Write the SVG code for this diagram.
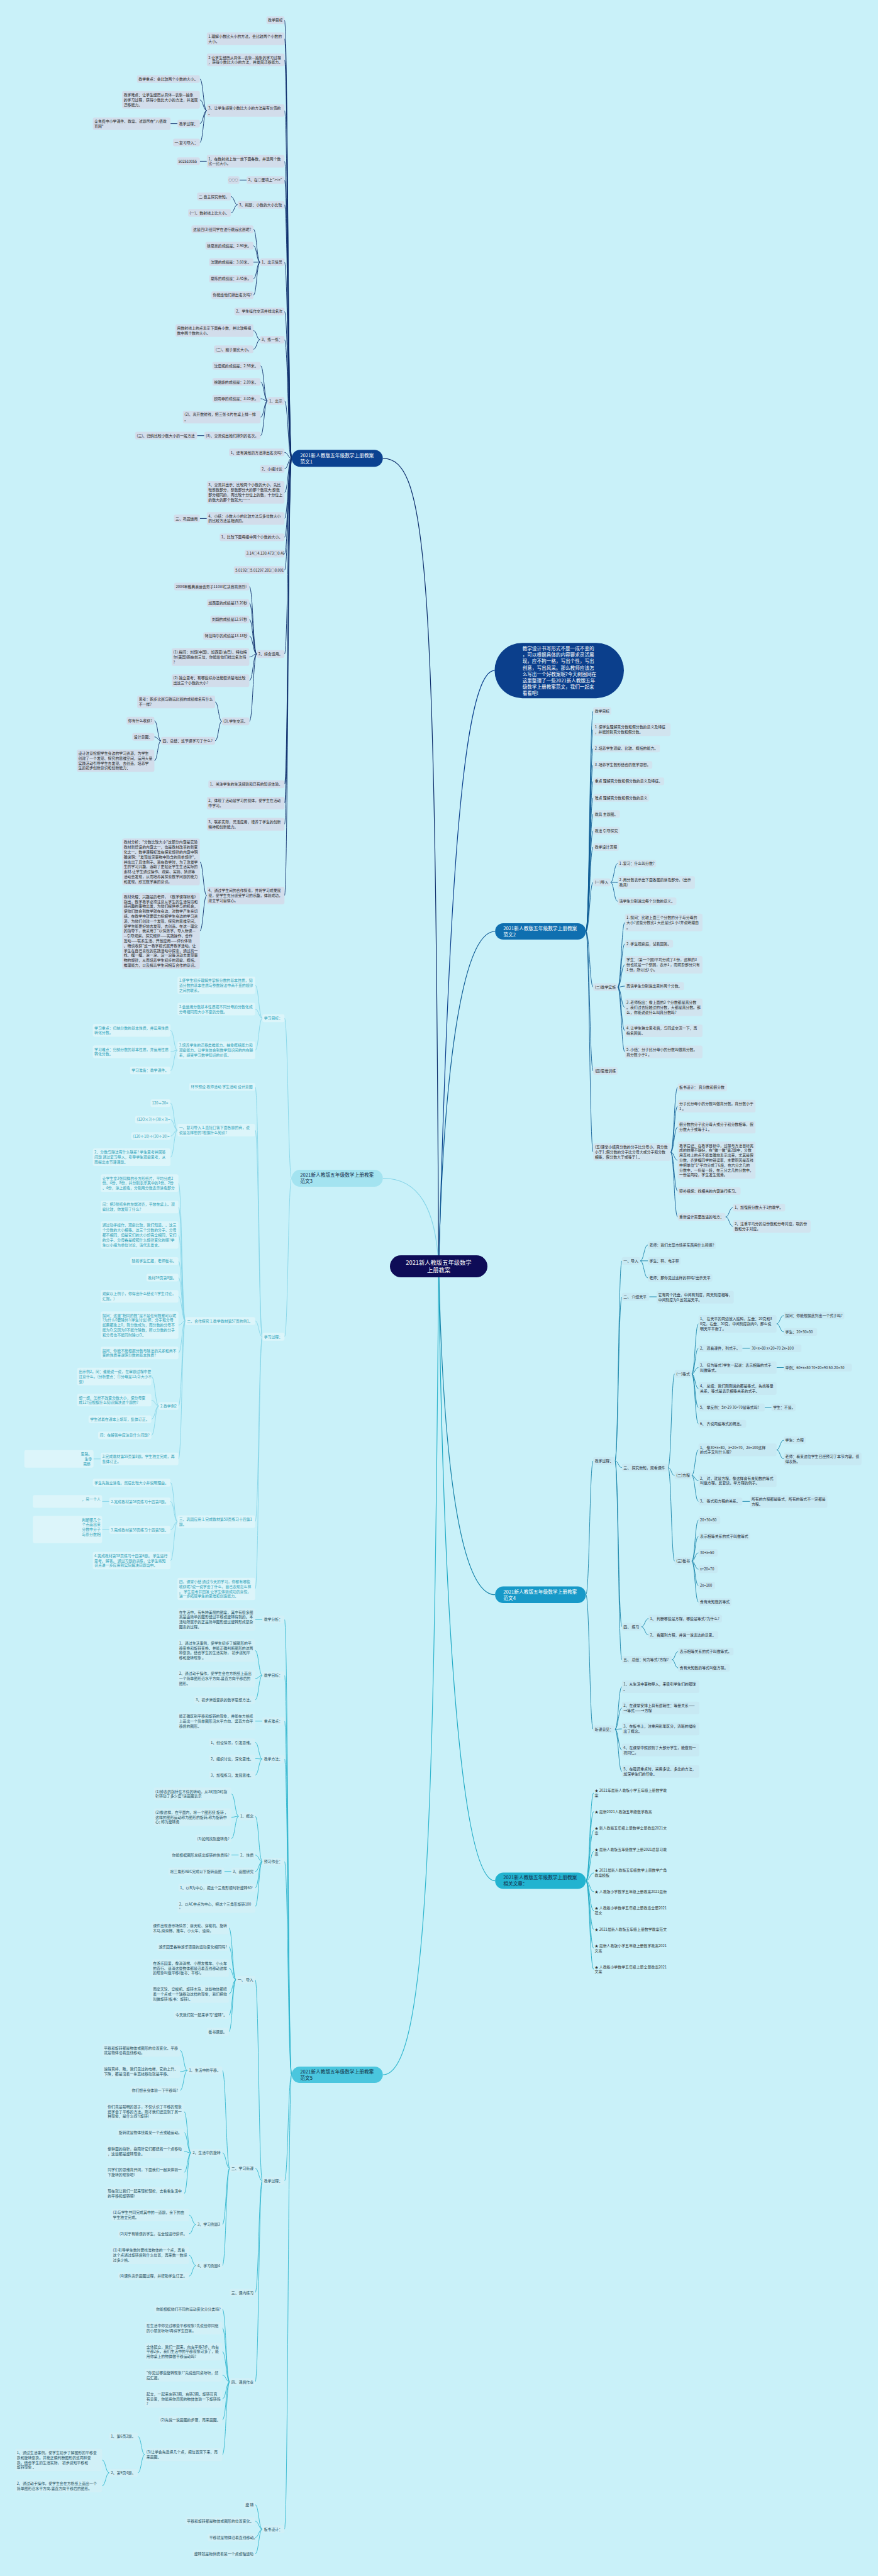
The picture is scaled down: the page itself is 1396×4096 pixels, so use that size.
<svg xmlns="http://www.w3.org/2000/svg" width="1396" height="4096" viewBox="0 0 1396 4096">
<style>
text{font-family:"Noto Sans CJK SC","Noto Sans",sans-serif;font-size:5.9px}
.k1 rect{fill:#d2ddeb}.k1 text{fill:#262626}
.k2 rect{fill:#d1e4ef}.k2 text{fill:#1f1f1f}
.k3 rect{fill:#dcf5fa}.k3 text{fill:#2a9fb7}
.k4 rect{fill:#c7e9f3}.k4 text{fill:#1e2b36}
.k5 rect{fill:#d1f0f7}.k5 text{fill:#1f4f5e}
.k6 text{fill:#333}
.L text{font-size:7.7px}
#connectors path{fill:none;stroke-width:.9}
.c0{stroke:#0b3f8c}.c1{stroke:#0c2d6b}.c2{stroke:#0f5c95}.c3{stroke:#86d5e8}.c4{stroke:#1683a9}.c5{stroke:#30b6ce}.c6{stroke:#1ea9c4}
#connectors .m{stroke-width:1.2}
</style>
<rect width="1396" height="4096" fill="#c9f1f9"/>
<g id="connectors">
<path class="c0 m" d="M697.5 2013.5C712 1500 730 1066.2 786.4 1066.2"/>
<path class="c1 m" d="M608.7 728.8C680 728.8 692 900 697.5 2013.5"/>
<path class="c3 m" d="M608.7 1873.5C665 1873.5 693 1920 697.5 2013.5"/>
<path class="c5 m" d="M608.7 3299C680 3299 690 2900 697.5 2013.5"/>
<path class="c2 m" d="M697.5 2013.5C705 1700 735 1481 787.2 1481"/>
<path class="c4 m" d="M697.5 2013.5C705 2350 735 2535.7 787.2 2535.7"/>
<path class="c6 m" d="M697.5 2013.5C705 2600 735 2990.6 787.2 2990.6"/>
<path class="c1" d="M463.7 728.8C458 728.8 458 32.1 452.3 32.1M463.7 728.8C458 728.8 458 61.6 452.3 61.6M463.7 728.8C458 728.8 458 95.3 452.3 95.3M463.7 728.8C458 728.8 458 175.8 452.3 175.8M463.7 728.8C458 728.8 458 256.4 452.3 256.4M463.7 728.8C458 728.8 458 286.3 452.3 286.3M463.7 728.8C458 728.8 458 325.6 452.3 325.6M463.7 728.8C458 728.8 458 416.9 452.3 416.9M463.7 728.8C458 728.8 458 495.3 452.3 495.3M463.7 728.8C458 728.8 458 540.2 452.3 540.2M463.7 728.8C458 728.8 458 637.5 452.3 637.5M463.7 728.8C458 728.8 458 719.4 452.3 719.4M463.7 728.8C458 728.8 458 745.6 452.3 745.6M463.7 728.8C458 728.8 458 782.9 452.3 782.9M463.7 728.8C458 728.8 458 824.4 452.3 824.4M463.7 728.8C458 728.8 458 854.3 452.3 854.3M463.7 728.8C458 728.8 458 880.3 452.3 880.3M463.7 728.8C458 728.8 458 906.5 452.3 906.5M463.7 728.8C458 728.8 458 1040 452.3 1040M463.7 728.8C458 728.8 458 1247 452.3 1247M463.7 728.8C458 728.8 458 1277 452.3 1277M463.7 728.8C458 728.8 458 1310.6 452.3 1310.6M463.7 728.8C458 728.8 458 1424 452.3 1424"/>
<path class="c1" d="M328.8 175.8C323.2 175.8 323.2 125.6 317.7 125.6M328.8 175.8C323.2 175.8 323.2 158.8 317.7 158.8M328.8 175.8C323.2 175.8 323.2 196.6 317.7 196.6M328.8 175.8C323.2 175.8 323.2 226.6 317.7 226.6M282.2 196.6H271.1M328.8 256.4H317.7M392.1 286.3H380.7M377.8 325.6C372.4 325.6 372.4 312.5 367.1 312.5M377.8 325.6C372.4 325.6 372.4 338.5 367.1 338.5M413.6 416.9C408.2 416.9 408.2 364.5 402.9 364.5M413.6 416.9C408.2 416.9 408.2 390.7 402.9 390.7M413.6 416.9H402.9M413.6 416.9C408.2 416.9 408.2 443.1 402.9 443.1M413.6 416.9C408.2 416.9 408.2 469.3 402.9 469.3M413.6 540.2C408.2 540.2 408.2 525.6 402.9 525.6M413.6 540.2C408.2 540.2 408.2 555.4 402.9 555.4M425.4 637.5C419.8 637.5 419.8 581.7 414.3 581.7M425.4 637.5C419.8 637.5 419.8 607.4 414.3 607.4M425.4 637.5C419.8 637.5 419.8 633.9 414.3 633.9M425.4 637.5C419.8 637.5 419.8 663.2 414.3 663.2M425.4 637.5C419.8 637.5 419.8 692.7 414.3 692.7M324.8 692.7H313.4M328.8 824.4H317.7M408.3 1040C402.3 1040 402.3 932.7 396.4 932.7M408.3 1040C402.3 1040 402.3 958.9 396.4 958.9M408.3 1040C402.3 1040 402.3 985 396.4 985M408.3 1040C402.3 1040 402.3 1011.3 396.4 1011.3M408.3 1040C402.3 1040 402.3 1044.7 396.4 1044.7M408.3 1040C402.3 1040 402.3 1082.2 396.4 1082.2M408.3 1040C402.3 1040 402.3 1147 396.4 1147M352.8 1147C347.4 1147 347.4 1116.1 342 1116.1M352.8 1147C347.4 1147 347.4 1177.8 342 1177.8M256.1 1177.8C250.7 1177.8 250.7 1146 245.4 1146M256.1 1177.8C250.7 1177.8 250.7 1171.7 245.4 1171.7M256.1 1177.8C250.7 1177.8 250.7 1209.5 245.4 1209.5M328.8 1424C323.2 1424 323.2 1370.5 317.7 1370.5M328.8 1424C323.2 1424 323.2 1480.2 317.7 1480.2"/>
<path class="c3" d="M463.7 1873.5C458 1873.5 458 1619 452.3 1619M463.7 1873.5C458 1873.5 458 2125.5 452.3 2125.5M417.2 1619C411.4 1619 411.4 1566.6 405.7 1566.6M417.2 1619C411.4 1619 411.4 1604.5 405.7 1604.5M417.2 1619C411.4 1619 411.4 1670 405.7 1670M282.2 1670C276.6 1670 276.6 1638.4 271.1 1638.4M282.2 1670C276.6 1670 276.6 1672.4 271.1 1672.4M282.2 1670C276.6 1670 276.6 1702.2 271.1 1702.2M417.2 2125.5C411.4 2125.5 411.4 1728.2 405.7 1728.2M417.2 2125.5C411.4 2125.5 411.4 1797 405.7 1797M417.2 2125.5C411.4 2125.5 411.4 2100.5 405.7 2100.5M417.2 2125.5C411.4 2125.5 411.4 2419.5 405.7 2419.5M417.2 2125.5C411.4 2125.5 411.4 2526.5 405.7 2526.5M282.2 1797C276.6 1797 276.6 1754.1 271.1 1754.1M282.2 1797C276.6 1797 276.6 1780.3 271.1 1780.3M282.2 1797C276.6 1797 276.6 1806.4 271.1 1806.4M282.2 1797C276.6 1797 276.6 1840 271.1 1840M294.8 2100.5C289.2 2100.5 289.2 1881.3 283.7 1881.3M294.8 2100.5C289.2 2100.5 289.2 1919.1 283.7 1919.1M294.8 2100.5C289.2 2100.5 289.2 1963.8 283.7 1963.8M294.8 2100.5C289.2 2100.5 289.2 2005.2 283.7 2005.2M294.8 2100.5C289.2 2100.5 289.2 2031.4 283.7 2031.4M294.8 2100.5C289.2 2100.5 289.2 2061.2 283.7 2061.2M294.8 2100.5C289.2 2100.5 289.2 2107 283.7 2107M294.8 2100.5C289.2 2100.5 289.2 2151.3 283.7 2151.3M294.8 2100.5C289.2 2100.5 289.2 2235.6 283.7 2235.6M294.8 2100.5C289.2 2100.5 289.2 2319.8 283.7 2319.8M252.5 2235.6C246.6 2235.6 246.6 2188.7 240.7 2188.7M252.5 2235.6C246.6 2235.6 246.6 2226.3 240.7 2226.3M252.5 2235.6C246.6 2235.6 246.6 2256.6 240.7 2256.6M252.5 2235.6C246.6 2235.6 246.6 2282.3 240.7 2282.3M160.2 2319.8H148.7M282.2 2419.5C276.6 2419.5 276.6 2357.5 271.1 2357.5M282.2 2419.5C276.6 2419.5 276.6 2387.4 271.1 2387.4M282.2 2419.5C276.6 2419.5 276.6 2432.5 271.1 2432.5M282.2 2419.5C276.6 2419.5 276.6 2481.4 271.1 2481.4M173.8 2387.4H162.3M173.8 2432.5H162.3"/>
<path class="c5" d="M463.7 3299C458 3299 458 2575 452.3 2575M463.7 3299C458 3299 458 2664 452.3 2664M463.7 3299C458 3299 458 2736.7 452.3 2736.7M463.7 3299C458 3299 458 2796.9 452.3 2796.9M463.7 3299C458 3299 458 2960.1 452.3 2960.1M463.7 3299C458 3299 458 3467.6 452.3 3467.6M463.7 3299C458 3299 458 4021.5 452.3 4021.5M417.2 2575H405.7M417.2 2664C411.4 2664 411.4 2624.4 405.7 2624.4M417.2 2664C411.4 2664 411.4 2669.1 405.7 2669.1M417.2 2664C411.4 2664 411.4 2702.9 405.7 2702.9M417.2 2736.7H405.7M417.2 2796.9C411.4 2796.9 411.4 2770.4 405.7 2770.4M417.2 2796.9C411.4 2796.9 411.4 2796.4 405.7 2796.4M417.2 2796.9C411.4 2796.9 411.4 2822.5 405.7 2822.5M417.2 2960.1C411.4 2960.1 411.4 2888 405.7 2888M417.2 2960.1C411.4 2960.1 411.4 2949.6 405.7 2949.6M417.2 2960.1C411.4 2960.1 411.4 2975.8 405.7 2975.8M417.2 2960.1C411.4 2960.1 411.4 3001.7 405.7 3001.7M417.2 2960.1C411.4 2960.1 411.4 3031.5 405.7 3031.5M379.6 2888C373.7 2888 373.7 2852.4 367.8 2852.4M379.6 2888C373.7 2888 373.7 2889.5 367.8 2889.5M379.6 2888C373.7 2888 373.7 2923.5 367.8 2923.5M379.6 2949.6H367.8M367.8 2975.8H356.7M417.2 3467.6C411.4 3467.6 411.4 3147.9 405.7 3147.9M417.2 3467.6C411.4 3467.6 411.4 3447.8 405.7 3447.8M417.2 3467.6C411.4 3467.6 411.4 3645.4 405.7 3645.4M417.2 3467.6C411.4 3467.6 411.4 3787.4 405.7 3787.4M375.3 3147.9C369.6 3147.9 369.6 3065.5 363.9 3065.5M375.3 3147.9C369.6 3147.9 369.6 3095.6 363.9 3095.6M375.3 3147.9C369.6 3147.9 369.6 3129.4 363.9 3129.4M375.3 3147.9C369.6 3147.9 369.6 3170.6 363.9 3170.6M375.3 3147.9C369.6 3147.9 369.6 3204.1 363.9 3204.1M375.3 3147.9C369.6 3147.9 369.6 3230.5 363.9 3230.5M365.3 3447.8C359.4 3447.8 359.4 3292.2 353.5 3292.2M365.3 3447.8C359.4 3447.8 359.4 3423.2 353.5 3423.2M365.3 3447.8C359.4 3447.8 359.4 3537.2 353.5 3537.2M365.3 3447.8C359.4 3447.8 359.4 3602.4 353.5 3602.4M298 3292.2C292.1 3292.2 292.1 3260.3 286.2 3260.3M298 3292.2C292.1 3292.2 292.1 3294.1 286.2 3294.1M298 3292.2C292.1 3292.2 292.1 3323.7 286.2 3323.7M303.7 3423.2C298.1 3423.2 298.1 3357.5 292.6 3357.5M303.7 3423.2C298.1 3423.2 298.1 3391 292.6 3391M303.7 3423.2C298.1 3423.2 298.1 3420.9 292.6 3420.9M303.7 3423.2C298.1 3423.2 298.1 3454.2 292.6 3454.2M303.7 3423.2C298.1 3423.2 298.1 3488 292.6 3488M311.6 3537.2C306 3537.2 306 3522 300.5 3522M311.6 3537.2C306 3537.2 306 3552 300.5 3552M311.6 3602.4C306 3602.4 306 3586 300.5 3586M311.6 3602.4C306 3602.4 306 3619.3 300.5 3619.3M365.3 3787.4C359.4 3787.4 359.4 3671.8 353.5 3671.8M365.3 3787.4C359.4 3787.4 359.4 3701.7 353.5 3701.7M365.3 3787.4C359.4 3787.4 359.4 3739.3 353.5 3739.3M365.3 3787.4C359.4 3787.4 359.4 3776.6 353.5 3776.6M365.3 3787.4C359.4 3787.4 359.4 3814.4 353.5 3814.4M365.3 3787.4C359.4 3787.4 359.4 3847.7 353.5 3847.7M365.3 3787.4C359.4 3787.4 359.4 3903.1 353.5 3903.1M230.3 3903.1C224.7 3903.1 224.7 3874.2 219.2 3874.2M230.3 3903.1C224.7 3903.1 224.7 3932 219.2 3932M173.8 3932C168 3932 168 3911.5 162.3 3911.5M173.8 3932C168 3932 168 3952.7 162.3 3952.7M417.2 4021.5C411.4 4021.5 411.4 3982.6 405.7 3982.6M417.2 4021.5C411.4 4021.5 411.4 4008.8 405.7 4008.8M417.2 4021.5C411.4 4021.5 411.4 4034.7 405.7 4034.7M417.2 4021.5C411.4 4021.5 411.4 4060.8 405.7 4060.8"/>
<path class="c2" d="M931.5 1481C937.4 1481 937.4 1130.6 943.2 1130.6M931.5 1481C937.4 1481 937.4 1160.1 943.2 1160.1M931.5 1481C937.4 1481 937.4 1190.1 943.2 1190.1M931.5 1481C937.4 1481 937.4 1216.3 943.2 1216.3M931.5 1481C937.4 1481 937.4 1242.3 943.2 1242.3M931.5 1481C937.4 1481 937.4 1268.5 943.2 1268.5M931.5 1481C937.4 1481 937.4 1294.4 943.2 1294.4M931.5 1481C937.4 1481 937.4 1320.8 943.2 1320.8M931.5 1481C937.4 1481 937.4 1346.8 943.2 1346.8M931.5 1481C937.4 1481 937.4 1403 943.2 1403M931.5 1481C937.4 1481 937.4 1569.6 943.2 1569.6M931.5 1481C937.4 1481 937.4 1702.9 943.2 1702.9M931.5 1481C937.4 1481 937.4 1831.9 943.2 1831.9M970.6 1403C976.3 1403 976.3 1373.2 982 1373.2M970.6 1403C976.3 1403 976.3 1403.2 982 1403.2M970.6 1403C976.3 1403 976.3 1433.1 982 1433.1M982 1569.6C987.8 1569.6 987.8 1466.7 993.6 1466.7M982 1569.6C987.8 1569.6 987.8 1500.7 993.6 1500.7M982 1569.6C987.8 1569.6 987.8 1534 993.6 1534M982 1569.6C987.8 1569.6 987.8 1568 993.6 1568M982 1569.6C987.8 1569.6 987.8 1601.8 993.6 1601.8M982 1569.6C987.8 1569.6 987.8 1639 993.6 1639M982 1569.6C987.8 1569.6 987.8 1672.6 993.6 1672.6M1066.2 1831.9C1071.8 1831.9 1071.8 1729 1077.5 1729M1066.2 1831.9C1071.8 1831.9 1071.8 1758.8 1077.5 1758.8M1066.2 1831.9C1071.8 1831.9 1071.8 1792.1 1077.5 1792.1M1066.2 1831.9C1071.8 1831.9 1071.8 1844.8 1077.5 1844.8M1066.2 1831.9C1071.8 1831.9 1071.8 1893.9 1077.5 1893.9M1066.2 1831.9C1071.8 1831.9 1071.8 1934.9 1077.5 1934.9M1153.6 1934.9C1159.5 1934.9 1159.5 1920.2 1165.4 1920.2M1153.6 1934.9C1159.5 1934.9 1159.5 1950 1165.4 1950"/>
<path class="c4" d="M931.5 2535.7C937.4 2535.7 937.4 2322.8 943.2 2322.8M931.5 2535.7C937.4 2535.7 937.4 2749.6 943.2 2749.6M977.7 2322.8C983.2 2322.8 983.2 2004.8 988.8 2004.8M977.7 2322.8C983.2 2322.8 983.2 2062 988.8 2062M977.7 2322.8C983.2 2322.8 983.2 2333.6 988.8 2333.6M977.7 2322.8C983.2 2322.8 983.2 2586.6 988.8 2586.6M977.7 2322.8C983.2 2322.8 983.2 2639.1 988.8 2639.1M1017.8 2004.8C1023.9 2004.8 1023.9 1979.8 1030 1979.8M1017.8 2004.8H1030M1017.8 2004.8C1023.9 2004.8 1023.9 2031.8 1030 2031.8M1032.3 2062H1044M1062.2 2333.6C1067.4 2333.6 1067.4 2184.5 1072.7 2184.5M1062.2 2333.6C1067.4 2333.6 1067.4 2346.1 1072.7 2346.1M1062.2 2333.6C1067.4 2333.6 1067.4 2482.3 1072.7 2482.3M1099.7 2184.5C1105.1 2184.5 1105.1 2105 1110.6 2105M1099.7 2184.5C1105.1 2184.5 1105.1 2143.9 1110.6 2143.9M1099.7 2184.5C1105.1 2184.5 1105.1 2174.5 1110.6 2174.5M1099.7 2184.5C1105.1 2184.5 1105.1 2207.9 1110.6 2207.9M1099.7 2184.5C1105.1 2184.5 1105.1 2238 1110.6 2238M1099.7 2184.5C1105.1 2184.5 1105.1 2264 1110.6 2264M1234.7 2105C1240.3 2105 1240.3 2091.8 1246 2091.8M1234.7 2105C1240.3 2105 1240.3 2117.8 1246 2117.8M1180.3 2143.9H1192.4M1234.7 2174.5H1246M1215.8 2238H1226.7M1099.7 2346.1C1105.1 2346.1 1105.1 2305.4 1110.6 2305.4M1099.7 2346.1C1105.1 2346.1 1105.1 2354.4 1110.6 2354.4M1099.7 2346.1C1105.1 2346.1 1105.1 2387.3 1110.6 2387.3M1234.7 2305.4C1240.3 2305.4 1240.3 2290.1 1246 2290.1M1234.7 2305.4C1240.3 2305.4 1240.3 2319.6 1246 2319.6M1180.3 2387.3H1192.4M1099.7 2482.3C1105.1 2482.3 1105.1 2417 1110.6 2417M1099.7 2482.3C1105.1 2482.3 1105.1 2443.1 1110.6 2443.1M1099.7 2482.3C1105.1 2482.3 1105.1 2469.1 1110.6 2469.1M1099.7 2482.3C1105.1 2482.3 1105.1 2495.2 1110.6 2495.2M1099.7 2482.3C1105.1 2482.3 1105.1 2521.2 1110.6 2521.2M1099.7 2482.3C1105.1 2482.3 1105.1 2547.3 1110.6 2547.3M1019.8 2586.6C1025.4 2586.6 1025.4 2573.7 1031.1 2573.7M1019.8 2586.6C1025.4 2586.6 1025.4 2599.8 1031.1 2599.8M1068.2 2639.1C1073.2 2639.1 1073.2 2626.2 1078.3 2626.2M1068.2 2639.1C1073.2 2639.1 1073.2 2652.2 1078.3 2652.2M977.7 2749.6C983.2 2749.6 983.2 2682 988.8 2682M977.7 2749.6C983.2 2749.6 983.2 2715.7 988.8 2715.7M977.7 2749.6C983.2 2749.6 983.2 2749.1 988.8 2749.1M977.7 2749.6C983.2 2749.6 983.2 2782.6 988.8 2782.6M977.7 2749.6C983.2 2749.6 983.2 2816.8 988.8 2816.8"/>
<path class="c6" d="M931.5 2990.6C937.7 2990.6 937.7 2850.8 944 2850.8M931.5 2990.6C937.7 2990.6 937.7 2880.6 944 2880.6M931.5 2990.6C937.7 2990.6 937.7 2910.6 944 2910.6M931.5 2990.6C937.7 2990.6 937.7 2944.3 944 2944.3M931.5 2990.6C937.7 2990.6 937.7 2978 944 2978M931.5 2990.6C937.7 2990.6 937.7 3007.9 944 3007.9M931.5 2990.6C937.7 2990.6 937.7 3037.8 944 3037.8M931.5 2990.6C937.7 2990.6 937.7 3067.7 944 3067.7M931.5 2990.6C937.7 2990.6 937.7 3097.6 944 3097.6M931.5 2990.6C937.7 2990.6 937.7 3131.3 944 3131.3"/>
</g>

<g id="center"><rect x="620" y="1996" width="155" height="35" rx="17.5" fill="#0e0c57"/><text x="697.5" y="2010.8" text-anchor="middle" fill="#fff" style="font-size:9.3px">2021新人教版五年级数学<tspan x="697.5" dy="12">上册教案</tspan></text></g>

<g id="intro" class="L"><rect x="786.4" y="1022.2" width="205.6" height="88" rx="44" fill="#0b3f8c"/><text x="830.7" y="1034.1" fill="#fff" style="font-size:7.6px">教学设计书写形式不是一成不变的<tspan x="830.7" dy="10.15">，可以根据具体的内容要求灵活展</tspan><tspan x="830.7" dy="10.15">现，应不拘一格，写出个性，写出</tspan><tspan x="830.7" dy="10.15">创意，写出风采。那么教师应该怎</tspan><tspan x="830.7" dy="10.15">么写出一个好教案呢?今天树图网在</tspan><tspan x="830.7" dy="10.15">这里整理了一些2021新人教版五年</tspan><tspan x="830.7" dy="10.15">级数学上册教案范文，我们一起来</tspan><tspan x="830.7" dy="10.15">看看吧!</tspan></text></g>

<g id="n1" class="L"><rect x="463.7" y="715.3" width="145" height="27" rx="13.5" fill="#0b4190"/><text x="477.3" y="726.6" fill="#fff">2021新人教版五年级数学上册教案<tspan x="477.3" dy="10">范文1</tspan></text></g>
<g id="n3" class="L"><rect x="463.7" y="1860" width="145" height="27" rx="13.5" fill="#a3e3f0"/><text x="477.3" y="1871.3" fill="#17304f">2021新人教版五年级数学上册教案<tspan x="477.3" dy="10">范文3</tspan></text></g>
<g id="n5" class="L"><rect x="463.7" y="3286" width="145" height="26" rx="13" fill="#4ac6de"/><text x="477.3" y="3296.8" fill="#123247">2021新人教版五年级数学上册教案<tspan x="477.3" dy="10">范文5</tspan></text></g>
<g id="n2" class="L"><rect x="787.2" y="1468" width="144.3" height="26" rx="13" fill="#0f6fb0"/><text x="800.3" y="1478.8" fill="#fff">2021新人教版五年级数学上册教案<tspan x="800.3" dy="10">范文2</tspan></text></g>
<g id="n4" class="L"><rect x="787.2" y="2522.5" width="144.3" height="26.5" rx="13" fill="#1799c8"/><text x="800.3" y="2533.5" fill="#fff">2021新人教版五年级数学上册教案<tspan x="800.3" dy="10">范文4</tspan></text></g>
<g id="n6" class="L"><rect x="787.2" y="2977.6" width="144.3" height="26" rx="13" fill="#22b3d0"/><text x="800.3" y="2988.4" fill="#152c4a">2021新人教版五年级数学上册教案<tspan x="800.3" dy="10">相关文章：</tspan></text></g>

<g id="A1" class="k1"><rect x="423.6" y="25.95" width="28.7" height="12.3" rx="3"/><text x="426.1" y="34.2">教学目标</text></g>
<g id="A2" class="k1"><rect x="328.8" y="51.55" width="123.5" height="20.1" rx="3"/><text x="331.3" y="59.8">1.理解小数比大小的方法，会比较两个小数的<tspan x="331.3" dy="7.8">大小。</tspan></text></g>
<g id="A3" class="k1"><rect x="328.8" y="85.25" width="123.5" height="20.1" rx="3"/><text x="331.3" y="93.5">2.让学生经历从具体—表象—抽象的学习过程<tspan x="331.3" dy="7.8">，获得小数比大小的方法，并发展迁移能力。</tspan></text></g>
<g id="A4" class="k1"><rect x="328.8" y="165.75" width="123.5" height="20.1" rx="3"/><text x="331.3" y="174">3、让学生感受小数比大小的方法是有价值的<tspan x="331.3" dy="7.8">。</tspan></text></g>
<g id="A4a" class="k1"><rect x="217.8" y="119.45" width="99.9" height="12.3" rx="3"/><text x="220.3" y="127.7">教学重点：会比较两个小数的大小。</text></g>
<g id="A4b" class="k1"><rect x="194.2" y="144.85" width="123.5" height="27.9" rx="3"/><text x="196.7" y="153.1">教学难点：让学生经历从具体—表象—抽象<tspan x="196.7" dy="7.8">的学习过程，获得小数比大小的方法，并发展</tspan><tspan x="196.7" dy="7.8">迁移能力。</tspan></text></g>
<g id="A4c" class="k1"><rect x="282.2" y="190.45" width="35.5" height="12.3" rx="3"/><text x="284.7" y="198.7">教学过程：</text></g>
<g id="A4c1" class="k1"><rect x="147.6" y="186.75" width="123.5" height="20.1" rx="3"/><text x="150.1" y="195">全免费中小学课件、教案、试题尽在"八佰教<tspan x="150.1" dy="7.8">育网"</tspan></text></g>
<g id="A4d" class="k1"><rect x="275.1" y="220.45" width="42.6" height="12.3" rx="3"/><text x="277.6" y="228.7">一.复习导入：</text></g>
<g id="A5" class="k1"><rect x="328.8" y="246.35" width="123.5" height="20.1" rx="3"/><text x="331.3" y="254.6">1、在数射线上放一放下面各数，并选两个数<tspan x="331.3" dy="7.8">比一比大小。</tspan></text></g>
<g id="A5a" class="k1"><rect x="281.2" y="250.25" width="36.5" height="12.3" rx="3"/><text x="283.7" y="258.5">502510055</text></g>
<g id="A6" class="k1"><rect x="392.1" y="280.15" width="60.2" height="12.3" rx="3"/><text x="394.6" y="288.4">2、在○里填上"&gt;&lt;="</text></g>
<g id="A6a" class="k1"><rect x="362" y="280.15" width="18.7" height="12.3" rx="3"/><text x="363.4" y="288.2" style="font-size:5px">○○○</text></g>
<g id="A7" class="k1"><rect x="377.8" y="319.45" width="74.5" height="12.3" rx="3"/><text x="380.3" y="327.7">3、揭题：小数的大小比较</text></g>
<g id="A7a" class="k1"><rect x="313.4" y="306.35" width="53.7" height="12.3" rx="3"/><text x="315.9" y="314.6">二.自主探究新知。</text></g>
<g id="A7b" class="k1"><rect x="299.1" y="332.35" width="68" height="12.3" rx="3"/><text x="301.6" y="340.6">(一)、数射线上比大小。</text></g>
<g id="A8" class="k1"><rect x="413.6" y="410.75" width="38.7" height="12.3" rx="3"/><text x="416.1" y="419">1、出示情景</text></g>
<g id="A8a" class="k1"><rect x="304.4" y="358.35" width="98.5" height="12.3" rx="3"/><text x="306.9" y="366.6">这是四(3)班同学在进行跳远比赛呢?</text></g>
<g id="A8b" class="k1"><rect x="326.6" y="384.55" width="76.3" height="12.3" rx="3"/><text x="329.1" y="392.8">徐夏豪的成绩是：2.90米。</text></g>
<g id="A8c" class="k1"><rect x="332.4" y="410.75" width="70.5" height="12.3" rx="3"/><text x="334.9" y="419">沈珺的成绩是：3.60米。</text></g>
<g id="A8d" class="k1"><rect x="332.4" y="436.95" width="70.5" height="12.3" rx="3"/><text x="334.9" y="445.2">夏陈的成绩是：3.45米。</text></g>
<g id="A8e" class="k1"><rect x="336" y="463.15" width="66.9" height="12.3" rx="3"/><text x="338.5" y="471.4">你能给他们排出名次吗?</text></g>
<g id="A9" class="k1"><rect x="372.8" y="489.15" width="79.5" height="12.3" rx="3"/><text x="375.3" y="497.4">2、学生操作交流并排出名次</text></g>
<g id="A10" class="k1"><rect x="413.6" y="534.05" width="38.7" height="12.3" rx="3"/><text x="416.1" y="542.3">3、练一练：</text></g>
<g id="A10a" class="k1"><rect x="279" y="515.55" width="123.9" height="20.1" rx="3"/><text x="281.5" y="523.8">用数射线上的点表示下面各小数，并比较每组<tspan x="281.5" dy="7.8">数中两个数的大小。</tspan></text></g>
<g id="A10b" class="k1"><rect x="340.2" y="549.25" width="62.7" height="12.3" rx="3"/><text x="342.7" y="557.5">(二)、脑子里比大小。</text></g>
<g id="A11" class="k1"><rect x="425.4" y="631.35" width="26.9" height="12.3" rx="3"/><text x="427.9" y="639.6">1、出示</text></g>
<g id="A11a" class="k1"><rect x="337.7" y="575.55" width="76.6" height="12.3" rx="3"/><text x="340.2" y="583.8">沈佳妮的成绩是：2.98米。</text></g>
<g id="A11b" class="k1"><rect x="337.7" y="601.25" width="76.6" height="12.3" rx="3"/><text x="340.2" y="609.5">徐璐婕的成绩是：2.89米。</text></g>
<g id="A11c" class="k1"><rect x="337.7" y="627.75" width="76.6" height="12.3" rx="3"/><text x="340.2" y="636">顾雨菲的成绩是：3.05米。</text></g>
<g id="A11d" class="k1"><rect x="290.8" y="653.15" width="123.5" height="20.1" rx="3"/><text x="293.3" y="661.4">(2)、离开数射线，把三张卡片在桌上排一排<tspan x="293.3" dy="7.8">。</tspan></text></g>
<g id="A11e" class="k1"><rect x="324.8" y="686.55" width="89.5" height="12.3" rx="3"/><text x="327.3" y="694.8">(3)、交流说出她们排列的名次。</text></g>
<g id="A11e1" class="k1"><rect x="214.9" y="686.55" width="98.5" height="12.3" rx="3"/><text x="217.4" y="694.8">(三)、归纳比较小数大小的一般方法</text></g>
<g id="A12" class="k1"><rect x="364.2" y="713.25" width="88.1" height="12.3" rx="3"/><text x="366.7" y="721.5">1、还有其他的方法排出名次吗?</text></g>
<g id="A13" class="k1"><rect x="413.6" y="739.45" width="38.7" height="12.3" rx="3"/><text x="416.1" y="747.7">2、小组讨论</text></g>
<g id="A14" class="k1"><rect x="328.8" y="765.05" width="123.5" height="35.7" rx="3"/><text x="331.3" y="773.3">3、交流并出示：比较两个小数的大小，先比<tspan x="331.3" dy="7.8">较整数部分，整数部分大的那个数就大;整数</tspan><tspan x="331.3" dy="7.8">部分相同的，再比较十分位上的数，十分位上</tspan><tspan x="331.3" dy="7.8">的数大的那个数就大;……</tspan></text></g>
<g id="A15" class="k1"><rect x="328.8" y="814.35" width="123.5" height="20.1" rx="3"/><text x="331.3" y="822.6">4、小结：小数大小的比较方法与多位数大小<tspan x="331.3" dy="7.8">的比较方法是相通的。</tspan></text></g>
<g id="A15a" class="k1"><rect x="276.5" y="818.25" width="41.2" height="12.3" rx="3"/><text x="279" y="826.5">三、巩固运用</text></g>
<g id="A16" class="k1"><rect x="349.2" y="848.15" width="103.1" height="12.3" rx="3"/><text x="351.7" y="856.4">1、比较下面每组中两个小数的大小。</text></g>
<g id="A17" class="k1"><rect x="389.3" y="874.15" width="63" height="12.3" rx="3"/><text x="391.8" y="882.4">3.14○4.130.473○0.46</text></g>
<g id="A18" class="k1"><rect x="371.7" y="900.35" width="80.6" height="12.3" rx="3"/><text x="374.2" y="908.6">5.0192○5.01297.281○8.001</text></g>
<g id="A19" class="k1"><rect x="408.3" y="1033.85" width="44" height="12.3" rx="3"/><text x="410.8" y="1042.1">2、综合运用。</text></g>
<g id="A19a" class="k1"><rect x="276.9" y="926.55" width="119.5" height="12.3" rx="3"/><text x="279.4" y="934.8">2004年雅典奥运会男子110m栏决赛真激烈!</text></g>
<g id="A19b" class="k1"><rect x="328.8" y="952.75" width="67.6" height="12.3" rx="3"/><text x="331.3" y="961">加西亚的成绩是13.20秒</text></g>
<g id="A19c" class="k1"><rect x="334.5" y="978.85" width="61.9" height="12.3" rx="3"/><text x="337" y="987.1">刘翔的成绩是12.97秒</text></g>
<g id="A19d" class="k1"><rect x="323.1" y="1005.15" width="73.3" height="12.3" rx="3"/><text x="325.6" y="1013.4">特拉梅尔的成绩是13.18秒</text></g>
<g id="A19e" class="k1"><rect x="273" y="1030.75" width="123.4" height="27.9" rx="3"/><text x="275.5" y="1039">(1).提问：刘翔(中国)、加西亚(古巴)、特拉梅<tspan x="275.5" dy="7.8">尔(美国)跑在前三位，你能给他们排出名次吗</tspan><tspan x="275.5" dy="7.8">?</tspan></text></g>
<g id="A19f" class="k1"><rect x="273" y="1072.15" width="123.4" height="20.1" rx="3"/><text x="275.5" y="1080.4">(2).独立思考：有哪些好办法能很清楚地比较<tspan x="275.5" dy="7.8">出这三个小数的大小?</tspan></text></g>
<g id="A19g" class="k1"><rect x="352.8" y="1140.85" width="43.6" height="12.3" rx="3"/><text x="355.3" y="1149.1">(3).学生交流。</text></g>
<g id="A19g1" class="k1"><rect x="218.2" y="1106.05" width="123.8" height="20.1" rx="3"/><text x="220.7" y="1114.3">思考：跑步比赛与跳远比赛的成绩排名有什么<tspan x="220.7" dy="7.8">不一样?</tspan></text></g>
<g id="A19g2" class="k1"><rect x="256.1" y="1171.65" width="85.9" height="12.3" rx="3"/><text x="258.6" y="1179.9">四、总结：这节课学习了什么?</text></g>
<g id="A19g2a" class="k1"><rect x="201.3" y="1139.85" width="44.1" height="12.3" rx="3"/><text x="203.8" y="1148.1">你有什么收获?</text></g>
<g id="A19g2b" class="k1"><rect x="210.3" y="1165.55" width="35.1" height="12.3" rx="3"/><text x="212.8" y="1173.8">设计意图：</text></g>
<g id="A19g2c" class="k1"><rect x="122" y="1191.65" width="123.4" height="35.7" rx="3"/><text x="124.5" y="1199.9">设计注意挖掘学生身边的学习资源，为学生<tspan x="124.5" dy="7.8">创建了一个发现、探究的思维空间，运用大量</tspan><tspan x="124.5" dy="7.8">实践活动引导学生去发现、去创造，培养学</tspan><tspan x="124.5" dy="7.8">生的初步创新意识和创新能力：</tspan></text></g>
<g id="A20" class="k1"><rect x="331.3" y="1240.85" width="121" height="12.3" rx="3"/><text x="333.8" y="1249.1">1、关注学生的生活经验和已有的知识体验。</text></g>
<g id="A21" class="k1"><rect x="328.8" y="1266.95" width="123.5" height="20.1" rx="3"/><text x="331.3" y="1275.2">2、体现了活动是学习的载体，使学生在活动<tspan x="331.3" dy="7.8">中学习。</tspan></text></g>
<g id="A22" class="k1"><rect x="328.8" y="1300.55" width="123.5" height="20.1" rx="3"/><text x="331.3" y="1308.8">3、联系实际，灵活应用，培养了学生的创新<tspan x="331.3" dy="7.8">精神和创新能力。</tspan></text></g>
<g id="A23" class="k1"><rect x="328.8" y="1410.05" width="123.5" height="27.9" rx="3"/><text x="331.3" y="1418.3">4、通过学生间的合作探索，并将学习成果展<tspan x="331.3" dy="7.8">现，使学生充分感受学习的乐趣，体验成功，</tspan><tspan x="331.3" dy="7.8">建立学习自信心。</tspan></text></g>
<g id="A23a" class="k1"><rect x="194.2" y="1333.15" width="123.5" height="74.7" rx="3"/><text x="196.7" y="1341.4">教材分析："分数比较大小"这部分内容是实验<tspan x="196.7" dy="7.8">教材新增设的内容之一，也是教材改革的新变</tspan><tspan x="196.7" dy="7.8">化之一。数学课程标准在探索规律的内容中明</tspan><tspan x="196.7" dy="7.8">确说明："发现给定事物中隐含的简单规律"，</tspan><tspan x="196.7" dy="7.8">并给出了具体例子。我在教学时，为了激发学</tspan><tspan x="196.7" dy="7.8">生的学习兴趣，选取了更贴近学生生活实际的</tspan><tspan x="196.7" dy="7.8">素材.让学生通过操作、观察、实验、猜测等</tspan><tspan x="196.7" dy="7.8">活动去发现，从而培养其探索数学问题的能力</tspan><tspan x="196.7" dy="7.8">和发现、欣赏数学美的意识。</tspan></text></g>
<g id="A23b" class="k1"><rect x="194.2" y="1419.45" width="123.5" height="121.5" rx="3"/><text x="196.7" y="1427.7">教材处理：兴趣是的老师，《数学课程标准》<tspan x="196.7" dy="7.8">指出，数学教学必须注意从学生的生活情境和</tspan><tspan x="196.7" dy="7.8">感兴趣的事物出发，为他们提供参与的机会，</tspan><tspan x="196.7" dy="7.8">使他们体会到数学就在身边，对数学产生亲切</tspan><tspan x="196.7" dy="7.8">感。在教学中就要努力挖掘学生身边的学习资</tspan><tspan x="196.7" dy="7.8">源，为他们创建一个发现、探究的思维空间，</tspan><tspan x="196.7" dy="7.8">使学生能更好地去发现，去创造。在这一理念</tspan><tspan x="196.7" dy="7.8">的指导下，我采用了"以情激学、导入新课—</tspan><tspan x="196.7" dy="7.8">—引导观察、探究规律——实践操作、合作</tspan><tspan x="196.7" dy="7.8">互动——联系生活、开放应用——评价体验</tspan><tspan x="196.7" dy="7.8">、畅谈收获"这一教学模式展开教学活动。让</tspan><tspan x="196.7" dy="7.8">学生在自己喜欢的实践活动中探索，通过找一</tspan><tspan x="196.7" dy="7.8">找、摆一摆、涂一涂、演一演等活动去发现事</tspan><tspan x="196.7" dy="7.8">物的规律，从而培养学生初步的观察、概括、</tspan><tspan x="196.7" dy="7.8">推理能力，以及提高学生间相互合作的意识。</tspan></text></g>

<g id="B1" class="k3"><rect x="417.2" y="1612.85" width="35.1" height="12.3" rx="3"/><text x="419.7" y="1621.1">学习目标：</text></g>
<g id="B1a" class="k3"><rect x="282.2" y="1552.65" width="123.5" height="27.9" rx="3"/><text x="284.7" y="1560.9">1.使学生初步理解并掌握分数的基本性质，知<tspan x="284.7" dy="7.8">道分数的基本性质与整数除法中商不变的规律</tspan><tspan x="284.7" dy="7.8">之间的联系。</tspan></text></g>
<g id="B1b" class="k3"><rect x="282.2" y="1594.45" width="123.5" height="20.1" rx="3"/><text x="284.7" y="1602.7">2.会运用分数基本性质把不同分母的分数化成<tspan x="284.7" dy="7.8">分母相同而大小不变的分数。</tspan></text></g>
<g id="B1c" class="k3"><rect x="282.2" y="1656.05" width="123.5" height="27.9" rx="3"/><text x="284.7" y="1664.3">3.培养学生的迁移类推能力、抽象概括能力和<tspan x="284.7" dy="7.8">观察能力。让学生体会到数学知识间的内在联</tspan><tspan x="284.7" dy="7.8">系，感受学习数学知识的价值。</tspan></text></g>
<g id="B1c1" class="k3"><rect x="147.6" y="1628.35" width="123.5" height="20.1" rx="3"/><text x="150.1" y="1636.6">学习重点：归纳分数的基本性质，并运用性质<tspan x="150.1" dy="7.8">转化分数。</tspan></text></g>
<g id="B1c2" class="k3"><rect x="147.6" y="1662.35" width="123.5" height="20.1" rx="3"/><text x="150.1" y="1670.6">学习难点：归纳分数的基本性质，并运用性质<tspan x="150.1" dy="7.8">转化分数。</tspan></text></g>
<g id="B1c3" class="k3"><rect x="206.7" y="1696.05" width="64.4" height="12.3" rx="3"/><text x="209.2" y="1704.3">学习准备：教学课件。</text></g>
<g id="B2" class="k3"><rect x="417.2" y="2119.35" width="35.1" height="12.3" rx="3"/><text x="419.7" y="2127.6">学习过程：</text></g>
<g id="B2a" class="k3"><rect x="300.9" y="1722.05" width="104.8" height="12.3" rx="3"/><text x="303.4" y="1730.3">环节预设 教师活动 学生活动 设计意图</text></g>
<g id="B2b" class="k3"><rect x="282.2" y="1786.95" width="123.5" height="20.1" rx="3"/><text x="284.7" y="1795.2">一、复习导入 1.直接口答下面各题的商，说<tspan x="284.7" dy="7.8">说是怎样想的?根据什么知识?</tspan></text></g>
<g id="B2b1" class="k3"><rect x="239.3" y="1747.95" width="31.8" height="12.3" rx="3"/><text x="241.8" y="1756.2">120÷20=</text></g>
<g id="B2b2" class="k3"><rect x="214.9" y="1774.15" width="56.2" height="12.3" rx="3"/><text x="217.4" y="1782.4">(12O×3)÷(30×3)=</text></g>
<g id="B2b3" class="k3"><rect x="208.8" y="1800.25" width="62.3" height="12.3" rx="3"/><text x="211.3" y="1808.5">(120÷10)÷(30÷10)=</text></g>
<g id="B2b4" class="k3"><rect x="147.6" y="1826.05" width="123.5" height="27.9" rx="3"/><text x="150.1" y="1834.3">2、分数与除法有什么联系? 学生思考并回答<tspan x="150.1" dy="7.8">问题 通过复习导入，引导学生观察思考，从</tspan><tspan x="150.1" dy="7.8">而提出本节课课题。</tspan></text></g>
<g id="B2c" class="k3"><rect x="294.8" y="2094.35" width="110.9" height="12.3" rx="3"/><text x="297.3" y="2102.6">二、合作探究 1.教学教材第57页的例1。</text></g>
<g id="B2c1" class="k3"><rect x="160.2" y="1867.35" width="123.5" height="27.9" rx="3"/><text x="162.7" y="1875.6">让学生拿3张同样的长方形纸片，平均分成2<tspan x="162.7" dy="7.8">份、4份、8份，并分别表示其中的1份、2份</tspan><tspan x="162.7" dy="7.8">、4份，涂上颜色，分别用分数表示涂色部分</tspan></text></g>
<g id="B2c2" class="k3"><rect x="160.2" y="1909.05" width="123.5" height="20.1" rx="3"/><text x="162.7" y="1917.3">问：把3张纸条的左端对齐，平放在桌上。观<tspan x="162.7" dy="7.8">察比较，你发现了什么?</tspan></text></g>
<g id="B2c3" class="k3"><rect x="160.2" y="1942.05" width="123.5" height="43.5" rx="3"/><text x="162.7" y="1950.3">通过动手操作、观察比较，我们知道、、这三<tspan x="162.7" dy="7.8">个分数的大小相等。这三个分数的分子、分母</tspan><tspan x="162.7" dy="7.8">都不相同，但是它们的大小却完全相同，它们</tspan><tspan x="162.7" dy="7.8">的分子、分母各是按照什么规律变化的呢?学</tspan><tspan x="162.7" dy="7.8">生以小组为单位讨论，请代表发言。</tspan></text></g>
<g id="B2c4" class="k3"><rect x="207.1" y="1999.05" width="76.6" height="12.3" rx="3"/><text x="209.6" y="2007.3">随着学生汇报，老师板书。</text></g>
<g id="B2c5" class="k3"><rect x="232.8" y="2025.25" width="50.9" height="12.3" rx="3"/><text x="235.3" y="2033.5">教材59页第8题。</text></g>
<g id="B2c6" class="k3"><rect x="160.2" y="2051.15" width="123.5" height="20.1" rx="3"/><text x="162.7" y="2059.4">观察以上例子，你得出什么结论?(学生讨论，<tspan x="162.7" dy="7.8">汇报。)</tspan></text></g>
<g id="B2c7" class="k3"><rect x="160.2" y="2085.25" width="123.5" height="43.5" rx="3"/><text x="162.7" y="2093.5">提问：这里"相同的数"是不是任何数都可以呢<tspan x="162.7" dy="7.8">?为什么0要除外?(学生讨论)师：分子和分母</tspan><tspan x="162.7" dy="7.8">如果都乘上0，则分数成为，而分数的分母不</tspan><tspan x="162.7" dy="7.8">能为O;又因为0不能作除数，所以分数的分子</tspan><tspan x="162.7" dy="7.8">和分母也不能同时除以O。</tspan></text></g>
<g id="B2c8" class="k3"><rect x="160.2" y="2141.25" width="123.5" height="20.1" rx="3"/><text x="162.7" y="2149.5">提问：你能不能根据分数与除法的关系和商不<tspan x="162.7" dy="7.8">变的性质来说明分数的基本性质?</tspan></text></g>
<g id="B2c9" class="k3"><rect x="252.5" y="2229.45" width="31.2" height="12.3" rx="3"/><text x="255" y="2237.7">2.教学例2</text></g>
<g id="B2c9a" class="k3"><rect x="122.7" y="2174.75" width="118" height="27.9" rx="3"/><text x="125.2" y="2183">出示例2。问：谁能说一说，在审题过程中要<tspan x="125.2" dy="7.8">注意什么。(分析要点：①分母是12;②大小不</tspan><tspan x="125.2" dy="7.8">变)</tspan></text></g>
<g id="B2c9b" class="k3"><rect x="122.7" y="2216.25" width="118" height="20.1" rx="3"/><text x="125.2" y="2224.5">想一想，怎样不改变分数大小，使分母变<tspan x="125.2" dy="7.8">成12?应根据什么知识解决这个题的?</tspan></text></g>
<g id="B2c9c" class="k3"><rect x="140.8" y="2250.45" width="99.9" height="12.3" rx="3"/><text x="143.3" y="2258.7">学生试着在课本上填写，集体订正。</text></g>
<g id="B2c9d" class="k3"><rect x="155.9" y="2276.15" width="84.8" height="12.3" rx="3"/><text x="158.4" y="2284.4">问：在解答中应注意什么问题?</text></g>
<g id="B2c10" class="k3"><rect x="160.2" y="2309.75" width="123.5" height="20.1" rx="3"/><text x="162.7" y="2318">3.完成教材第59页第8题。学生独立完成，再<tspan x="162.7" dy="7.8">集体订正。</tspan></text></g>
<g id="B2c10a" class="k3"><rect x="38.7" y="2305.85" width="110" height="27.9" rx="3"/><text x="146.2" y="2314.1" text-anchor="end">思路。<tspan x="146.2" dy="7.8">生零</tspan><tspan x="144" dy="7.8">完整</tspan></text></g>
<g id="B2d" class="k3"><rect x="282.2" y="2409.45" width="123.5" height="20.1" rx="3"/><text x="284.7" y="2417.7">三、巩固应用 1.完成教材第58页练习十四第1<tspan x="284.7" dy="7.8">题。</tspan></text></g>
<g id="B2d1" class="k3"><rect x="147.6" y="2351.35" width="123.5" height="12.3" rx="3"/><text x="150.1" y="2359.6">学生先独立涂色，然后比较大小并说明理由。</text></g>
<g id="B2d2" class="k3"><rect x="173.8" y="2381.25" width="97.3" height="12.3" rx="3"/><text x="176.3" y="2389.5">2.完成教材第58页练习十四第3题。</text></g>
<g id="B2d2a" class="k3"><rect x="52.3" y="2377.35" width="110" height="20.1" rx="3"/><text x="159.8" y="2385.6" text-anchor="end">，另一个人</text></g>
<g id="B2d3" class="k3"><rect x="173.8" y="2426.35" width="97.3" height="12.3" rx="3"/><text x="176.3" y="2434.6">3.完成教材第58页练习十四第5题。</text></g>
<g id="B2d3a" class="k3"><rect x="52.3" y="2410.25" width="110" height="43.5" rx="3"/><text x="159.8" y="2418.5" text-anchor="end">判断哪几个<tspan x="159.8" dy="7.8">个点画出来</tspan><tspan x="159.8" dy="7.8">分数中分子</tspan><tspan x="159.8" dy="7.8">与原分数相</tspan></text></g>
<g id="B2d4" class="k3"><rect x="147.6" y="2467.45" width="123.5" height="27.9" rx="3"/><text x="150.1" y="2475.7">4.完成教材第58页练习十四第6题。 学生进行<tspan x="150.1" dy="7.8">思考、解答。 通过习题的演练，让学生将知</tspan><tspan x="150.1" dy="7.8">识点进一步应用到实际解决问题当中。</tspan></text></g>
<g id="B2e" class="k3"><rect x="282.2" y="2508.65" width="123.5" height="35.7" rx="3"/><text x="284.7" y="2516.9">四、课堂小结 通过今天的学习，你都有哪些<tspan x="284.7" dy="7.8">收获呢?说一说学会了什么，自己表现怎么样</tspan><tspan x="284.7" dy="7.8">。 学生思考并回答 让学生体验成功的喜悦，</tspan><tspan x="284.7" dy="7.8">进一步拓展学生的思维和创造能力。</tspan></text></g>

<g id="C1" class="k5"><rect x="417.2" y="2568.85" width="35.1" height="12.3" rx="3"/><text x="419.7" y="2577.1">教学分析：</text></g>
<g id="C1a" class="k5"><rect x="282.2" y="2557.35" width="123.5" height="35.7" rx="3"/><text x="284.7" y="2565.6">在生活中，有各种美丽的图案，其中有很多图<tspan x="284.7" dy="7.8">案是由简单的图形经过平移或旋转得到的。本</tspan><tspan x="284.7" dy="7.8">活动所展示的正是简单图形经过旋转形成复杂</tspan><tspan x="284.7" dy="7.8">图案的过程。</tspan></text></g>
<g id="C2" class="k5"><rect x="417.2" y="2657.85" width="35.1" height="12.3" rx="3"/><text x="419.7" y="2666.1">教学目标：</text></g>
<g id="C2a" class="k5"><rect x="282.2" y="2606.55" width="123.5" height="35.7" rx="3"/><text x="284.7" y="2614.8">1、通过生活事例，使学生初步了解图形的平<tspan x="284.7" dy="7.8">移变换和旋转变换。并能正确判断图形的这两</tspan><tspan x="284.7" dy="7.8">种变换。结合学生的生活实际， 初步感知平</tspan><tspan x="284.7" dy="7.8">移和旋转现象 。</tspan></text></g>
<g id="C2b" class="k5"><rect x="282.2" y="2655.15" width="123.5" height="27.9" rx="3"/><text x="284.7" y="2663.4">2、通过动手操作，使学生会在方格纸上画出<tspan x="284.7" dy="7.8">一个简单图形沿水平方向.竖直方向平移后的</tspan><tspan x="284.7" dy="7.8">图形。</tspan></text></g>
<g id="C2c" class="k5"><rect x="308.7" y="2696.75" width="97" height="12.3" rx="3"/><text x="311.2" y="2705">3、初步渗透变换的数学思想方法。</text></g>
<g id="C3" class="k5"><rect x="417.2" y="2730.55" width="35.1" height="12.3" rx="3"/><text x="419.7" y="2738.8">重点难点：</text></g>
<g id="C3a" class="k5"><rect x="282.2" y="2722.85" width="123.5" height="27.9" rx="3"/><text x="284.7" y="2731.1">能正确区别平移和旋转的现象，并能在方格纸<tspan x="284.7" dy="7.8">上画出一个简单图形沿水平方向、竖直方向平</tspan><tspan x="284.7" dy="7.8">移后的图形。</tspan></text></g>
<g id="C4" class="k5"><rect x="417.2" y="2790.75" width="35.1" height="12.3" rx="3"/><text x="419.7" y="2799">教学方法：</text></g>
<g id="C4a" class="k5"><rect x="332.4" y="2764.25" width="73.3" height="12.3" rx="3"/><text x="334.9" y="2772.5">1、创设情景，引发思维。</text></g>
<g id="C4b" class="k5"><rect x="332.4" y="2790.25" width="73.3" height="12.3" rx="3"/><text x="334.9" y="2798.5">2、组织讨论，深化思维。</text></g>
<g id="C4c" class="k5"><rect x="332.4" y="2816.35" width="73.3" height="12.3" rx="3"/><text x="334.9" y="2824.6">3、加强练习，发展思维。</text></g>
<g id="C5" class="k5"><rect x="417.2" y="2953.95" width="35.1" height="12.3" rx="3"/><text x="419.7" y="2962.2">预习作业：</text></g>
<g id="C5a" class="k5"><rect x="379.6" y="2881.85" width="26.1" height="12.3" rx="3"/><text x="382.1" y="2890.1">1、概念</text></g>
<g id="C5a1" class="k5"><rect x="244.6" y="2842.35" width="123.2" height="20.1" rx="3"/><text x="247.1" y="2850.6">(1)钟表的指针在不停的转动，从3时到5时指<tspan x="247.1" dy="7.8">针转动了多少度?请画图表示</tspan></text></g>
<g id="C5a2" class="k5"><rect x="244.6" y="2875.55" width="123.2" height="27.9" rx="3"/><text x="247.1" y="2883.8">(2)像这样，在平面内，将一个图形绕 旋转 ，<tspan x="247.1" dy="7.8">这样的图形运动称为图形的旋转;称为旋转中</tspan><tspan x="247.1" dy="7.8">心; 称为旋转角</tspan></text></g>
<g id="C5a3" class="k5"><rect x="310.9" y="2917.35" width="56.9" height="12.3" rx="3"/><text x="313.4" y="2925.6">(3)如何找到旋转角?</text></g>
<g id="C5b" class="k5"><rect x="379.6" y="2943.45" width="26.1" height="12.3" rx="3"/><text x="382.1" y="2951.7">2、性质</text></g>
<g id="C5b1" class="k5"><rect x="271.1" y="2943.45" width="96.7" height="12.3" rx="3"/><text x="273.6" y="2951.7">你能根据图形总结出旋转的性质吗?</text></g>
<g id="C5c" class="k5"><rect x="367.8" y="2969.65" width="37.9" height="12.3" rx="3"/><text x="370.3" y="2977.9">3、画图研究</text></g>
<g id="C5c1" class="k5"><rect x="267.9" y="2969.65" width="88.8" height="12.3" rx="3"/><text x="270.4" y="2977.9">将三角形ABC完成以下旋转画图</text></g>
<g id="C5d" class="k5"><rect x="283.7" y="2995.55" width="122" height="12.3" rx="3"/><text x="286.2" y="3003.8">1、以B为中心，把这个三角形顺时针旋转60°</text></g>
<g id="C5e" class="k5"><rect x="282.2" y="3021.45" width="123.5" height="20.1" rx="3"/><text x="284.7" y="3029.7">2、以AC中点为中心，把这个三角形旋转180<tspan x="284.7" dy="7.8">°</tspan></text></g>
<g id="C6" class="k5"><rect x="417.2" y="3461.45" width="35.1" height="12.3" rx="3"/><text x="419.7" y="3469.7">教学过程：</text></g>
<g id="C6a" class="k5"><rect x="375.3" y="3141.75" width="30.4" height="12.3" rx="3"/><text x="377.8" y="3150">一、 导入</text></g>
<g id="C6a1" class="k5"><rect x="240.7" y="3055.45" width="123.2" height="20.1" rx="3"/><text x="243.2" y="3063.7">课件出现游乐场情景：摩天轮、穿梭机、旋转<tspan x="243.2" dy="7.8">木马,滑滑梯、推车、小火车、速滑。</tspan></text></g>
<g id="C6a2" class="k5"><rect x="249.7" y="3089.45" width="114.2" height="12.3" rx="3"/><text x="252.2" y="3097.7">游乐园里各种游乐项目的运动变化相同吗?</text></g>
<g id="C6a3" class="k5"><rect x="240.7" y="3115.45" width="123.2" height="27.9" rx="3"/><text x="243.2" y="3123.7">在游乐园里，像滑滑梯、小朋友推车、小火车<tspan x="243.2" dy="7.8">的直行、速滑这些物体都是沿着直线移动这样</tspan><tspan x="243.2" dy="7.8">的现象叫做平移(板书：平移)。</tspan></text></g>
<g id="C6a4" class="k5"><rect x="240.7" y="3156.65" width="123.2" height="27.9" rx="3"/><text x="243.2" y="3164.9">而摩天轮、穿梭机、旋转木马，这些物体都绕<tspan x="243.2" dy="7.8">着一个点或一个轴移动这样的现象，我们把他</tspan><tspan x="243.2" dy="7.8">叫做旋转(板书：旋转)。</tspan></text></g>
<g id="C6a5" class="k5"><rect x="276.5" y="3197.95" width="87.4" height="12.3" rx="3"/><text x="279" y="3206.2">今天我们就一起来学习"旋转"。</text></g>
<g id="C6a6" class="k5"><rect x="328.8" y="3224.35" width="35.1" height="12.3" rx="3"/><text x="331.3" y="3232.6">板书课题。</text></g>
<g id="C6b" class="k5"><rect x="365.3" y="3441.65" width="40.4" height="12.3" rx="3"/><text x="367.8" y="3449.9">二、学习新课</text></g>
<g id="C6b1" class="k5"><rect x="298" y="3286.05" width="55.5" height="12.3" rx="3"/><text x="300.5" y="3294.3">1、生活中的平移。</text></g>
<g id="C6b1a" class="k5"><rect x="162.7" y="3250.25" width="123.5" height="20.1" rx="3"/><text x="165.2" y="3258.5">平移和旋转都是物体或图形的位置变化。平移<tspan x="165.2" dy="7.8">就是物体沿着直线移动。</tspan></text></g>
<g id="C6b1b" class="k5"><rect x="162.7" y="3284.05" width="123.5" height="20.1" rx="3"/><text x="165.2" y="3292.3">说得真棒，瞧，我们见过的电梯，它的上升、<tspan x="165.2" dy="7.8">下降，都是沿着一条直线移动就是平移。</tspan></text></g>
<g id="C6b1c" class="k5"><rect x="207.1" y="3317.55" width="79.1" height="12.3" rx="3"/><text x="209.6" y="3325.8">你们想亲身体验一下平移吗?</text></g>
<g id="C6b2" class="k5"><rect x="303.7" y="3417.05" width="49.8" height="12.3" rx="3"/><text x="306.2" y="3425.3">2、生活中的旋转</text></g>
<g id="C6b2a" class="k5"><rect x="168.7" y="3343.55" width="123.9" height="27.9" rx="3"/><text x="171.2" y="3351.8">你们真是聪明的孩子，不仅认识了平移的现象<tspan x="171.2" dy="7.8">还学会了平移的方法。刚才我们还见到了另一</tspan><tspan x="171.2" dy="7.8">种现象，是什么呀?(旋转)</tspan></text></g>
<g id="C6b2b" class="k5"><rect x="186.3" y="3384.85" width="106.3" height="12.3" rx="3"/><text x="188.8" y="3393.1">旋转就是物体绕着某一个点或轴运动。</text></g>
<g id="C6b2c" class="k5"><rect x="168.7" y="3410.85" width="123.9" height="20.1" rx="3"/><text x="171.2" y="3419.1">像钟面的指针，指南针它们都绕着一个点移动<tspan x="171.2" dy="7.8">，这些都是旋转现象。</tspan></text></g>
<g id="C6b2d" class="k5"><rect x="168.7" y="3444.15" width="123.9" height="20.1" rx="3"/><text x="171.2" y="3452.4">同学们的思维真开阔，下面我们一起来体验一<tspan x="171.2" dy="7.8">下旋转的现象吧!</tspan></text></g>
<g id="C6b2e" class="k5"><rect x="168.7" y="3477.95" width="123.9" height="20.1" rx="3"/><text x="171.2" y="3486.2">现在就让我们一起来轻松轻松，去看看生活中<tspan x="171.2" dy="7.8">的平移和旋转吧!</tspan></text></g>
<g id="C6b3" class="k5"><rect x="311.6" y="3531.05" width="41.9" height="12.3" rx="3"/><text x="314.1" y="3539.3">3、学习例题3</text></g>
<g id="C6b3a" class="k5"><rect x="177" y="3511.95" width="123.5" height="20.1" rx="3"/><text x="179.5" y="3520.2">(1)与学生共同完成其中的一道题，余下的由<tspan x="179.5" dy="7.8">学生独立完成。</tspan></text></g>
<g id="C6b3b" class="k5"><rect x="187.4" y="3545.85" width="113.1" height="12.3" rx="3"/><text x="189.9" y="3554.1">(2)对于有错误的学生，在全班进行讲评。</text></g>
<g id="C6b4" class="k5"><rect x="311.6" y="3596.25" width="41.9" height="12.3" rx="3"/><text x="314.1" y="3604.5">4、学习例题4</text></g>
<g id="C6b4a" class="k5"><rect x="177" y="3572.05" width="123.5" height="27.9" rx="3"/><text x="179.5" y="3580.3">(1) 引导学生数时要找准物体的一个点，再看<tspan x="179.5" dy="7.8">这个点通过旋转后到什么位置，再来数一数经</tspan><tspan x="179.5" dy="7.8">过多少格。</tspan></text></g>
<g id="C6b4b" class="k5"><rect x="187.4" y="3613.15" width="113.1" height="12.3" rx="3"/><text x="189.9" y="3621.4">(4)课件演示画图过程，并帮助学生订正。</text></g>
<g id="C6c" class="k5"><rect x="365.3" y="3639.25" width="40.4" height="12.3" rx="3"/><text x="367.8" y="3647.5">三、课内练习</text></g>
<g id="C6d" class="k5"><rect x="365.3" y="3781.25" width="40.4" height="12.3" rx="3"/><text x="367.8" y="3789.5">四、课后作业</text></g>
<g id="C6d1" class="k5"><rect x="245.4" y="3665.65" width="108.1" height="12.3" rx="3"/><text x="247.9" y="3673.9">你能根据他们不同的运动变化分分类吗?</text></g>
<g id="C6d2" class="k5"><rect x="230.3" y="3691.65" width="123.2" height="20.1" rx="3"/><text x="232.8" y="3699.9">在生活中你见过哪些平移现象?先说给你同组<tspan x="232.8" dy="7.8">的小朋友听听!再请学生回答。</tspan></text></g>
<g id="C6d3" class="k5"><rect x="230.3" y="3725.35" width="123.2" height="27.9" rx="3"/><text x="232.8" y="3733.6">全体起立，我们一起来，向左平移2步，向右<tspan x="232.8" dy="7.8">平移2步。我们生活中的平移现象可多了，能</tspan><tspan x="232.8" dy="7.8">用你桌上的物体做平移运动吗?</tspan></text></g>
<g id="C6d4" class="k5"><rect x="230.3" y="3766.55" width="123.2" height="20.1" rx="3"/><text x="232.8" y="3774.8">"你见过哪些旋转现象?"先说给同桌听听，然<tspan x="232.8" dy="7.8">后汇报。</tspan></text></g>
<g id="C6d5" class="k5"><rect x="230.3" y="3800.45" width="123.2" height="27.9" rx="3"/><text x="232.8" y="3808.7">起立，一起来左转2圈，右转2圈。旋转可真<tspan x="232.8" dy="7.8">有意思，你能用你周围的物体体验一下旋转吗</tspan><tspan x="232.8" dy="7.8">?</tspan></text></g>
<g id="C6d6" class="k5"><rect x="252.5" y="3841.55" width="101" height="12.3" rx="3"/><text x="255" y="3849.8">(2)先说一说画图的步骤，再来画图。</text></g>
<g id="C6d7" class="k5"><rect x="230.3" y="3893.05" width="123.2" height="20.1" rx="3"/><text x="232.8" y="3901.3">(3)让学会先选择几个点，把位置定下来，再<tspan x="232.8" dy="7.8">来画图。</tspan></text></g>
<g id="C6d7a" class="k5"><rect x="173.8" y="3868.05" width="45.4" height="12.3" rx="3"/><text x="176.3" y="3876.3">1、第6页2题。</text></g>
<g id="C6d7b" class="k5"><rect x="173.8" y="3925.85" width="45.4" height="12.3" rx="3"/><text x="176.3" y="3934.1">2、第9页4题、</text></g>
<g id="C6d7b1" class="k5"><rect x="24.3" y="3893.65" width="138" height="35.7" rx="3"/><text x="26.8" y="3901.9">1、通过生活事例，使学生初步了解图形的平移变<tspan x="26.8" dy="7.8">换和旋转变换。并能正确判断图形的这两种变</tspan><tspan x="26.8" dy="7.8">换。结合学生的生活实际， 初步感知平移和</tspan><tspan x="26.8" dy="7.8">旋转现象 。</tspan></text></g>
<g id="C6d7b2" class="k5"><rect x="24.3" y="3942.65" width="138" height="20.1" rx="3"/><text x="26.8" y="3950.9">2、通过动手操作，使学生会在方格纸上画出一个<tspan x="26.8" dy="7.8">简单图形沿水平方向.竖直方向平移后的图形。</tspan></text></g>
<g id="C7" class="k5"><rect x="417.2" y="4015.35" width="35.1" height="12.3" rx="3"/><text x="419.7" y="4023.6">板书设计：</text></g>
<g id="C7a" class="k5"><rect x="387.8" y="3976.45" width="17.9" height="12.3" rx="3"/><text x="390.3" y="3984.7">旋 转</text></g>
<g id="C7b" class="k5"><rect x="294.8" y="4002.65" width="110.9" height="12.3" rx="3"/><text x="297.3" y="4010.9">平移和旋转都是物体或图形的位置变化。</text></g>
<g id="C7c" class="k5"><rect x="330.2" y="4028.55" width="75.5" height="12.3" rx="3"/><text x="332.7" y="4036.8">平移就是物体沿着直线移动。</text></g>
<g id="C7d" class="k5"><rect x="306.2" y="4054.65" width="99.5" height="12.3" rx="3"/><text x="308.7" y="4062.9">旋转就是物体绕着某一个点或轴运动</text></g>

<g id="D1" class="k2"><rect x="943.2" y="1124.45" width="28.7" height="12.3" rx="3"/><text x="945.7" y="1132.7">教学目标</text></g>
<g id="D2" class="k2"><rect x="943.2" y="1150.05" width="123" height="20.1" rx="3"/><text x="945.7" y="1158.3">1 .使学生理解真分数和假分数的意义及特征<tspan x="945.7" dy="7.8">，并能辨别真分数和假分数。</tspan></text></g>
<g id="D3" class="k2"><rect x="943.2" y="1183.95" width="106.1" height="12.3" rx="3"/><text x="945.7" y="1192.2">2 .培养学生观察、比较、概括的能力。</text></g>
<g id="D4" class="k2"><rect x="943.2" y="1210.15" width="94" height="12.3" rx="3"/><text x="945.7" y="1218.4">3 .培养学生数形结合的数学思想。</text></g>
<g id="D5" class="k2"><rect x="943.2" y="1236.15" width="112.9" height="12.3" rx="3"/><text x="945.7" y="1244.4">重点 理解真分数和假分数的意义及特征。</text></g>
<g id="D6" class="k2"><rect x="943.2" y="1262.35" width="89.1" height="12.3" rx="3"/><text x="945.7" y="1270.6">难点 理解真分数和假分数的意义</text></g>
<g id="D7" class="k2"><rect x="943.2" y="1288.25" width="42.4" height="12.3" rx="3"/><text x="945.7" y="1296.5">教具 主题图。</text></g>
<g id="D8" class="k2"><rect x="943.2" y="1314.65" width="42.4" height="12.3" rx="3"/><text x="945.7" y="1322.9">教法 引导探究</text></g>
<g id="D9" class="k2"><rect x="943.2" y="1340.65" width="40.8" height="12.3" rx="3"/><text x="945.7" y="1348.9">教学设计流程</text></g>
<g id="D10" class="k2"><rect x="943.2" y="1396.85" width="27.4" height="12.3" rx="3"/><text x="945.7" y="1405.1">(一)导入</text></g>
<g id="D10a" class="k2"><rect x="982" y="1367.05" width="61.2" height="12.3" rx="3"/><text x="984.5" y="1375.3">1 .复习：什么叫分数?</text></g>
<g id="D10b" class="k2"><rect x="982" y="1393.15" width="122.9" height="20.1" rx="3"/><text x="984.5" y="1401.4">2 .用分数表示出下面各图的涂色部分。(出示<tspan x="984.5" dy="7.8">教具)</tspan></text></g>
<g id="D10c" class="k2"><rect x="982" y="1426.95" width="93.5" height="12.3" rx="3"/><text x="984.5" y="1435.2">请学生分别说出每个分数的意义。</text></g>
<g id="D11" class="k2"><rect x="943.2" y="1563.45" width="38.8" height="12.3" rx="3"/><text x="945.7" y="1571.7">(二)教学实施</text></g>
<g id="D11a" class="k2"><rect x="993.6" y="1452.75" width="123.4" height="27.9" rx="3"/><text x="996.1" y="1461">1 .提问：比较上面三个分数的分子与分母的<tspan x="996.1" dy="7.8">大小?这些分数比1 大还是比1 小?并说明理由</tspan><tspan x="996.1" dy="7.8">。</tspan></text></g>
<g id="D11b" class="k2"><rect x="993.6" y="1494.55" width="76.6" height="12.3" rx="3"/><text x="996.1" y="1502.8">2 .学生观察后，试着回答。</text></g>
<g id="D11c" class="k2"><rect x="993.6" y="1520.05" width="123.4" height="27.9" rx="3"/><text x="996.1" y="1528.3">学生：(第一个圆)平均分成了3 份，这样的3<tspan x="996.1" dy="7.8">份也就是一个整圆，表示1 ，而阴影部分只有</tspan><tspan x="996.1" dy="7.8">1 份，所以比l 小。</tspan></text></g>
<g id="D11d" class="k2"><rect x="993.6" y="1561.85" width="94" height="12.3" rx="3"/><text x="996.1" y="1570.1">再请学生分别说出另外两个分数。</text></g>
<g id="D11e" class="k2"><rect x="993.6" y="1587.85" width="123.4" height="27.9" rx="3"/><text x="996.1" y="1596.1">3 .老师指出：像上面的3 个分数都是真分数<tspan x="996.1" dy="7.8">。我们过去接触过的分数，大都是真分数。那</tspan><tspan x="996.1" dy="7.8">么，你能说说什么叫真分数吗?</tspan></text></g>
<g id="D11f" class="k2"><rect x="993.6" y="1628.95" width="123.4" height="20.1" rx="3"/><text x="996.1" y="1637.2">4 .让学生独立思考后，与同桌交流一下，再<tspan x="996.1" dy="7.8">指名回答。</tspan></text></g>
<g id="D11g" class="k2"><rect x="993.6" y="1662.55" width="123.4" height="20.1" rx="3"/><text x="996.1" y="1670.8">5 .小结：分子比分母小的分数叫做真分数。<tspan x="996.1" dy="7.8">真分数小于1 。</tspan></text></g>
<g id="D12" class="k2"><rect x="943.2" y="1696.75" width="38.8" height="12.3" rx="3"/><text x="945.7" y="1705">(四)思维训练</text></g>
<g id="D13" class="k2"><rect x="943.2" y="1817.95" width="123" height="27.9" rx="3"/><text x="945.7" y="1826.2">(五)课堂小结真分数的分子比分母小，真分数<tspan x="945.7" dy="7.8">小于1 ;假分数的分子比分母大或分子和分数</tspan><tspan x="945.7" dy="7.8">相等，假分数大于或等于1 。</tspan></text></g>
<g id="D13a" class="k2"><rect x="1077.5" y="1722.85" width="78.6" height="12.3" rx="3"/><text x="1080" y="1731.1">板书设计： 真分数和假分数</text></g>
<g id="D13b" class="k2"><rect x="1077.5" y="1748.75" width="123.8" height="20.1" rx="3"/><text x="1080" y="1757">分子比分母小的分数叫做真分数。真分数小于<tspan x="1080" dy="7.8">1 。</tspan></text></g>
<g id="D13c" class="k2"><rect x="1077.5" y="1782.05" width="123.8" height="20.1" rx="3"/><text x="1080" y="1790.3">假分数的分子比分母大或分子和分数相等，假<tspan x="1080" dy="7.8">分数大于或等于1 。</tspan></text></g>
<g id="D13d" class="k2"><rect x="1077.5" y="1815.25" width="123.8" height="59.1" rx="3"/><text x="1080" y="1823.5">教学后记：在教学目标中，过程与方法目标完<tspan x="1080" dy="7.8">成的效果不够好，在"做一做"第2题中，分数</tspan><tspan x="1080" dy="7.8">用直线上的点不能准确地表示出来，尤其是假</tspan><tspan x="1080" dy="7.8">分数，齐梦蝶同学的错误率，主要原因是直线</tspan><tspan x="1080" dy="7.8">中把单位"1"平均分成了6段，在六分之几的</tspan><tspan x="1080" dy="7.8">分数中，一份是一段，在三分之几的分数中，</tspan><tspan x="1080" dy="7.8">一份是两段，学生发生混淆。</tspan></text></g>
<g id="D13e" class="k2"><rect x="1077.5" y="1887.75" width="100" height="12.3" rx="3"/><text x="1080" y="1896">弥补措施：找相关的内容进行练习。</text></g>
<g id="D13f" class="k2"><rect x="1077.5" y="1928.75" width="76.1" height="12.3" rx="3"/><text x="1080" y="1937">重新设计需要改进的地方：</text></g>
<g id="D13f1" class="k2"><rect x="1165.4" y="1914.05" width="83" height="12.3" rx="3"/><text x="1167.9" y="1922.3">1、加强假分数大于1的教学。</text></g>
<g id="D13f2" class="k2"><rect x="1165.4" y="1939.95" width="123.4" height="20.1" rx="3"/><text x="1167.9" y="1948.2">2、注重平均分的总份数和分母对应，取的份<tspan x="1167.9" dy="7.8">数和分子对应。</tspan></text></g>

<g id="E1" class="k4"><rect x="943.2" y="2316.65" width="34.5" height="12.3" rx="3"/><text x="945.7" y="2324.9">教学过程：</text></g>
<g id="E1a" class="k4"><rect x="988.8" y="1998.65" width="29" height="12.3" rx="3"/><text x="991.3" y="2006.9">一、导入</text></g>
<g id="E1a1" class="k4"><rect x="1030" y="1973.65" width="108" height="12.3" rx="3"/><text x="1032.5" y="1981.9">老师：我们去菜市场买东西用什么称呢?</text></g>
<g id="E1a2" class="k4"><rect x="1030" y="1998.65" width="52.3" height="12.3" rx="3"/><text x="1032.5" y="2006.9">学生：秤、电子秤</text></g>
<g id="E1a3" class="k4"><rect x="1030" y="2025.65" width="102.7" height="12.3" rx="3"/><text x="1032.5" y="2033.9">老师：那你见过这样的秤吗?出示天平</text></g>
<g id="E1b" class="k4"><rect x="988.8" y="2055.85" width="43.5" height="12.3" rx="3"/><text x="991.3" y="2064.1">二、 介绍天平</text></g>
<g id="E1b1" class="k4"><rect x="1044" y="2052.55" width="122.6" height="20.1" rx="3"/><text x="1046.5" y="2060.8">它有两个托盘，中间有刻度，两天刻度相等，<tspan x="1046.5" dy="7.8">中间刻度为0.这就是天平。</tspan></text></g>
<g id="E1c" class="k4"><rect x="988.8" y="2327.45" width="73.4" height="12.3" rx="3"/><text x="991.3" y="2335.7">三、 探究新知，观看课件</text></g>
<g id="E1c1" class="k4"><rect x="1072.7" y="2178.35" width="27" height="12.3" rx="3"/><text x="1075.2" y="2186.6">(一)等式</text></g>
<g id="E1c1a" class="k4"><rect x="1110.6" y="2091.05" width="124.1" height="27.9" rx="3"/><text x="1113.1" y="2099.3">1、 在天平的两边放入砝码，左盘：20克和3<tspan x="1113.1" dy="7.8">0克，右盘：50克，中间刻度指向0，那么说</tspan><tspan x="1113.1" dy="7.8">明天平平衡了。</tspan></text></g>
<g id="E1c1a1" class="k4"><rect x="1246" y="2085.65" width="96.4" height="12.3" rx="3"/><text x="1248.5" y="2093.9">提问：你能根据此列出一个式子吗?</text></g>
<g id="E1c1a2" class="k4"><rect x="1246" y="2111.65" width="53.3" height="12.3" rx="3"/><text x="1248.5" y="2119.9">学生：20+30=50</text></g>
<g id="E1c1b" class="k4"><rect x="1110.6" y="2137.75" width="69.7" height="12.3" rx="3"/><text x="1113.1" y="2146">2、 观看课件，列式子。</text></g>
<g id="E1c1b1" class="k4"><rect x="1192.4" y="2137.75" width="81.9" height="12.3" rx="3"/><text x="1194.9" y="2146">30+x=80 x+20=70 2x=100</text></g>
<g id="E1c1c" class="k4"><rect x="1110.6" y="2164.45" width="124.1" height="20.1" rx="3"/><text x="1113.1" y="2172.7">3、 何为等式?学生一起说：表示相等的式子<tspan x="1113.1" dy="7.8">叫做等式。</tspan></text></g>
<g id="E1c1c1" class="k4"><rect x="1246" y="2168.35" width="108.5" height="12.3" rx="3"/><text x="1248.5" y="2176.6">举例：60+x=80 70+20=90 50-20=30</text></g>
<g id="E1c1d" class="k4"><rect x="1110.6" y="2197.85" width="124.1" height="20.1" rx="3"/><text x="1113.1" y="2206.1">4、 总结：我们刚刚说的都是等式，先找等量<tspan x="1113.1" dy="7.8">关系，等式是表示相等关系的式子。</tspan></text></g>
<g id="E1c1e" class="k4"><rect x="1110.6" y="2231.85" width="105.2" height="12.3" rx="3"/><text x="1113.1" y="2240.1">5、 举反例：5x&gt;29 30&lt;70是等式吗?</text></g>
<g id="E1c1e1" class="k4"><rect x="1226.7" y="2231.85" width="38.3" height="12.3" rx="3"/><text x="1229.2" y="2240.1">学生：不是。</text></g>
<g id="E1c1f" class="k4"><rect x="1110.6" y="2257.85" width="75.8" height="12.3" rx="3"/><text x="1113.1" y="2266.1">6、 齐说两遍等式的概念。</text></g>
<g id="E1c2" class="k4"><rect x="1072.7" y="2339.95" width="27" height="12.3" rx="3"/><text x="1075.2" y="2348.2">(二)方程</text></g>
<g id="E1c2a" class="k4"><rect x="1110.6" y="2295.35" width="124.1" height="20.1" rx="3"/><text x="1113.1" y="2303.6">1、 像30+x=80、x+20=70、2x=100这样<tspan x="1113.1" dy="7.8">的式子又叫什么呢?</tspan></text></g>
<g id="E1c2a1" class="k4"><rect x="1246" y="2283.95" width="35" height="12.3" rx="3"/><text x="1248.5" y="2292.2">学生：方程</text></g>
<g id="E1c2a2" class="k4"><rect x="1246" y="2309.55" width="123.8" height="20.1" rx="3"/><text x="1248.5" y="2317.8">老师：看来这位学生已经预习了本节内容，值<tspan x="1248.5" dy="7.8">得表扬。</tspan></text></g>
<g id="E1c2b" class="k4"><rect x="1110.6" y="2344.35" width="124.1" height="20.1" rx="3"/><text x="1113.1" y="2352.6">2、 对，就是方程，像这样含有未知数的等式<tspan x="1113.1" dy="7.8">叫做方程。反复读。举方程的例子。</tspan></text></g>
<g id="E1c2c" class="k4"><rect x="1110.6" y="2381.15" width="69.7" height="12.3" rx="3"/><text x="1113.1" y="2389.4">3、 等式和方程的关系。</text></g>
<g id="E1c2c1" class="k4"><rect x="1192.4" y="2377.55" width="123" height="20.1" rx="3"/><text x="1194.9" y="2385.8">所有的方程都是等式，所有的等式不一定都是<tspan x="1194.9" dy="7.8">方程。</tspan></text></g>
<g id="E1c3" class="k4"><rect x="1072.7" y="2476.15" width="27" height="12.3" rx="3"/><text x="1075.2" y="2484.4">(三)板书</text></g>
<g id="E1c3a" class="k4"><rect x="1110.6" y="2410.85" width="34.6" height="12.3" rx="3"/><text x="1113.1" y="2419.1">20+30=50</text></g>
<g id="E1c3b" class="k4"><rect x="1110.6" y="2436.95" width="81.8" height="12.3" rx="3"/><text x="1113.1" y="2445.2">表示相等关系的式子叫做等式</text></g>
<g id="E1c3c" class="k4"><rect x="1110.6" y="2462.95" width="30.4" height="12.3" rx="3"/><text x="1113.1" y="2471.2">30+x=50</text></g>
<g id="E1c3d" class="k4"><rect x="1110.6" y="2489.05" width="30.4" height="12.3" rx="3"/><text x="1113.1" y="2497.3">x+20=70</text></g>
<g id="E1c3e" class="k4"><rect x="1110.6" y="2515.05" width="26.4" height="12.3" rx="3"/><text x="1113.1" y="2523.3">2x=100</text></g>
<g id="E1c3f" class="k4"><rect x="1110.6" y="2541.15" width="52.4" height="12.3" rx="3"/><text x="1113.1" y="2549.4">含有未知数的等式</text></g>
<g id="E1d" class="k4"><rect x="988.8" y="2580.45" width="31" height="12.3" rx="3"/><text x="991.3" y="2588.7">四、 练习</text></g>
<g id="E1d1" class="k4"><rect x="1031.1" y="2567.55" width="116.9" height="12.3" rx="3"/><text x="1033.6" y="2575.8">1、 判断哪些是方程，哪些是等式?为什么?</text></g>
<g id="E1d2" class="k4"><rect x="1031.1" y="2593.65" width="110.9" height="12.3" rx="3"/><text x="1033.6" y="2601.9">2、 看图列方程，并说一说表达的意思。</text></g>
<g id="E1e" class="k4"><rect x="988.8" y="2632.95" width="79.4" height="12.3" rx="3"/><text x="991.3" y="2641.2">五、 总结：何为等式?方程?</text></g>
<g id="E1e1" class="k4"><rect x="1078.3" y="2620.05" width="87.9" height="12.3" rx="3"/><text x="1080.8" y="2628.3">表示相等关系的式子叫做等式。</text></g>
<g id="E1e2" class="k4"><rect x="1078.3" y="2646.05" width="81.9" height="12.3" rx="3"/><text x="1080.8" y="2654.3">含有未知数的等式叫做方程。</text></g>
<g id="E2" class="k4"><rect x="943.2" y="2743.45" width="34.5" height="12.3" rx="3"/><text x="945.7" y="2751.7">听课意见：</text></g>
<g id="E2a" class="k4"><rect x="988.8" y="2671.95" width="123" height="20.1" rx="3"/><text x="991.3" y="2680.2">1、从生活中事物导入，来吸引学生们的眼球<tspan x="991.3" dy="7.8">。</tspan></text></g>
<g id="E2b" class="k4"><rect x="988.8" y="2705.65" width="123" height="20.1" rx="3"/><text x="991.3" y="2713.9">2、在课堂安排上具有逻辑性：等量关系——<tspan x="991.3" dy="7.8">→等式——→方程</tspan></text></g>
<g id="E2c" class="k4"><rect x="988.8" y="2739.05" width="123" height="20.1" rx="3"/><text x="991.3" y="2747.3">3、在板书上，注重用彩笔区分，清晰的描绘<tspan x="991.3" dy="7.8">出了概念。</tspan></text></g>
<g id="E2d" class="k4"><rect x="988.8" y="2772.55" width="123" height="20.1" rx="3"/><text x="991.3" y="2780.8">4、在课堂中照顾到了大部分学生，能做到一<tspan x="991.3" dy="7.8">视同仁。</tspan></text></g>
<g id="E2e" class="k4"><rect x="988.8" y="2806.75" width="123" height="20.1" rx="3"/><text x="991.3" y="2815">5、在强调重点时，采用多读、多念的方法，<tspan x="991.3" dy="7.8">加深学生们的印象。</tspan></text></g>

<g id="F1" class="k6"><text x="945.6" y="2849">★ 2021年最新人教版小学五年级上册数学教<tspan x="945.6" dy="7.7">案</tspan></text></g>
<g id="F2" class="k6"><text x="945.6" y="2882.7">★ 最新2021人教版五年级数学教案</text></g>
<g id="F3" class="k6"><text x="945.6" y="2908.8">★ 新人教版五年级上册数学全册教案2021文<tspan x="945.6" dy="7.7">案</tspan></text></g>
<g id="F4" class="k6"><text x="945.6" y="2942.5">★ 最新人教版五年级数学上册2021总复习教<tspan x="945.6" dy="7.7">案</tspan></text></g>
<g id="F5" class="k6"><text x="945.6" y="2976.3">★ 2021最新人教版五年级数学上册数学广角<tspan x="945.6" dy="7.7">教案模板</tspan></text></g>
<g id="F6" class="k6"><text x="945.6" y="3010">★ 人教版小学数学五年级上册教案2021最新</text></g>
<g id="F7" class="k6"><text x="945.6" y="3036">★ 人教版小学数学五年级上册教案全册2021<tspan x="945.6" dy="7.7">范文</tspan></text></g>
<g id="F8" class="k6"><text x="945.6" y="3069.8">★ 2021最新人教版五年级上册数学教案范文</text></g>
<g id="F9" class="k6"><text x="945.6" y="3095.8">★ 最新人教版小学五年级上册数学教案2021<tspan x="945.6" dy="7.7">文案</tspan></text></g>
<g id="F10" class="k6"><text x="945.6" y="3129.6">★ 人教版小学数学五年级上册全册教案2021<tspan x="945.6" dy="7.7">文案</tspan></text></g>
</svg>
